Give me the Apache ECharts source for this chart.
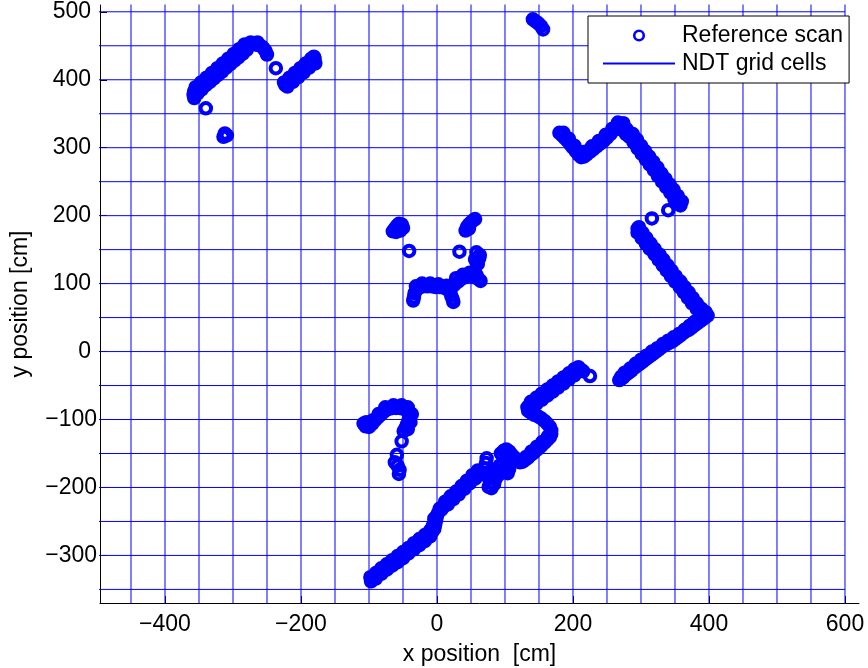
<!DOCTYPE html>
<html>
<head>
<meta charset="utf-8">
<title>NDT grid cells and reference scan</title>
<script src="https://cdn.jsdelivr.net/npm/echarts@6/dist/echarts.min.js"></script>
<style>
  html, body { margin: 0; padding: 0; background: #fff; }
  #chart { width: 868px; height: 668px; }
</style>
</head>
<body>
<div id="chart"></div>
<script>
// Axis limits and labelled ticks [cm]
const xRange = [-495.6, 620.6];
const yRange = [-370, 510];
const xTicks = [-400, -200, 0, 200, 400, 600];
const yTicks = [-300, -200, -100, 0, 100, 200, 300, 400, 500];

// NDT cell boundaries [cm]
const cellEdgesX = [-500, -450, -400, -350, -300, -250, -200, -150, -100, -50, 0, 50, 100, 150, 200, 250, 300, 350, 400, 450, 500, 550, 600];
const cellEdgesY = [-400, -350, -300, -250, -200, -150, -100, -50, 0, 50, 100, 150, 200, 250, 300, 350, 400, 450, 500, 550];

// Reference scan points [x, y] in cm, grouped by wall segment
const scanNorthWest = [
  [-340,358],
  [-357,373],[-358,378],[-357,383],[-353,386],[-349,390],[-345,393],[-341,397],[-337,400],[-333,404],
  [-329,407],[-325,411],[-321,414],[-317,418],[-313,421],[-309,425],[-305,428],[-301,432],[-297,435],
  [-293,439],[-289,442],[-285,446],[-281,449],[-277,451],[-272,452],[-267,452],[-262,451],[-258,449],
  [-255,446],[-252,442],[-250,437],
  [-352,380],[-346,386],[-340,392],[-334,397],[-328,402],[-322,407],[-316,412],[-310,418],[-304,423],
  [-298,428],[-292,433],[-286,438],[-280,444],
  [-355,389],[-347,396],[-339,403],[-331,410],[-323,417],[-315,424],[-307,431],[-299,438],[-291,445],
  [-283,452],[-274,455],[-264,455],
  [-237,417],[-312,321],[-314,316],[-309,318],
  [-223,392],[-220,390],[-219,395],[-215,399],[-211,402],[-207,406],[-203,409],[-199,413],[-195,416],
  [-191,420],[-187,423],[-183,427],[-180,431],[-181,434],[-179,424],[-212,397],[-204,404],[-196,411],[-188,418],
  [-225,396],[-217,403],[-209,410],[-201,417],[-193,424],[-185,431]
];
const scanTop = [[141,489],[145,486],[149,483],[153,479],[156,474]];
const scanCentre = [
  [-65,177],[-62,181],[-59,185],[-56,188],[-52,187],[-50,182],[-54,178],[-60,176],
  [-41,148],
  [42,178],[44,183],[47,187],[50,190],[53,193],[56,195],[47,181],
  [33,147],
  [58,146],[63,142],[56,136],[60,129],[58,132],[62,137],
  [-35,75],[-34,80],[-33,86],[-30,91],[-25,95],[-20,96],[-14,96],[-8,96],[-2,95],[4,95],[10,94],
  [15,92],[19,88],[21,82],[23,77],[24,73],[22,95],[26,99],[31,103],[36,107],[41,110],[46,112],
  [51,111],[56,109],[61,107],[64,104],
  [-31,96],[-22,100],[-10,100],[2,99],[14,97],[28,108],[38,113],[48,116],[58,113]
];
const scanSouthWest = [
  [-108,-106],[-105,-110],[-100,-111],[-95,-106],[-91,-101],[-87,-97],[-83,-93],[-79,-89],[-75,-86],
  [-70,-84],[-65,-83],[-60,-83],[-55,-83],[-50,-84],[-45,-86],[-41,-90],[-40,-95],[-42,-101],
  [-44,-107],[-46,-112],[-49,-117],[-52,-132],[-59,-152],[-62,-163],[-58,-168],[-55,-174],[-56,-180],
  [-104,-104],[-94,-101],[-86,-92],[-76,-82],[-64,-79],[-52,-79],[-43,-82],[-37,-92],[-39,-104],[-43,-114]
];
const scanNorthEast = [
  [180,322],[184,318],[188,314],[192,310],[196,305],[200,300],[204,295],[208,290],[212,286],[216,287],
  [220,290],[225,294],[230,298],[235,302],[240,306],[245,310],[250,315],[255,320],[259,325],[263,330],
  [267,333],[271,333],[275,331],[279,327],
  [186,322],[194,313],[202,303],[210,294],
  [218,294],[228,302],[238,310],[248,319],[258,328],[266,337],[274,336],
  [282,322],[285,318],[288,314],[291,310],[294,306],[297,301],[300,297],[303,293],[306,289],[309,285],
  [312,281],[315,277],[318,273],[321,269],[324,264],[327,260],[330,256],[333,252],[336,248],[339,244],
  [342,240],[345,236],[348,232],[351,227],[354,223],[357,219],[358,215],
  [288,320],[294,312],[300,303],[306,295],[312,287],[318,279],[324,271],[330,262],[336,254],[342,246],
  [348,238],[354,229],[360,221],[278,320],[273,326],
  [283,316],[289,308],[295,299],[301,291],[307,283],[313,275],[319,267],[325,258],[331,250],[337,242],
  [343,234],[349,225],[355,217],
  [340,208],[316,196]
];
const scanEast = [
  [297,183],[295,175],[302,175],[301,167],[308,167],[307,159],[314,159],[313,151],[320,151],[320,143],
  [327,143],[326,135],[333,135],[332,127],[339,127],[338,119],[345,119],[344,111],[351,111],[350,103],
  [358,103],[357,95],[364,95],[363,87],[370,87],[369,79],[376,79],[375,71],[382,71],[382,63],
  [389,63],[388,56],[395,58],[396,55],[398,53],
  [295,181],[297,177],[300,173],[303,169],[306,165],[309,161],[312,157],[315,153],[318,149],[322,145],
  [325,141],[328,137],[331,133],[334,129],[337,125],[340,121],[343,117],[346,113],[349,109],[352,105],
  [356,101],[359,97],[362,93],[365,89],[368,85],[371,81],[374,77],[377,73],[380,69],[384,65],
  [387,61],[390,58],[393,56],
  [394,50],[390,47],[386,44],[382,41],[378,38],[374,35],[370,32],[366,30],[362,27],[358,24],
  [354,21],[350,18],[346,15],[342,13],[338,11],[334,9],[330,6],[326,3],[322,0],[318,-3],
  [314,-6],[310,-9],[306,-12],[302,-15],[298,-18],[294,-21],[290,-24],[286,-28],[282,-31],[278,-34],
  [274,-38],[270,-41],[268,-42],
  [392,54],[385,49],[378,43],[371,37],
  [388,50],[380,44],[372,38],[364,32],[356,26],[348,21],[340,16],[332,11],[324,5],[316,0],
  [308,-6],[300,-12],[292,-18],[284,-25],[276,-31],[271,-37]
];
const scanDiagonal = [
  [-97,-338],[-95,-333],[-91,-330],[-87,-326],[-83,-322],[-79,-320],[-75,-317],[-71,-314],[-67,-311],
  [-63,-308],[-59,-306],[-55,-303],[-51,-300],[-47,-296],[-43,-293],[-39,-290],[-35,-287],[-31,-284],
  [-27,-281],[-23,-278],[-19,-275],[-15,-271],[-11,-268],[-7,-265],[-4,-261],[-3,-256],[-2,-251],
  [-1,-246],[0,-241],[2,-237],[6,-233],[9,-229],[13,-225],[17,-221],[21,-217],[25,-213],[29,-210],
  [33,-206],[37,-202],[41,-198],[45,-194],[49,-190],[53,-186],[57,-183],[61,-180],[65,-178],
  [-90,-334],[-82,-327],[-74,-321],[-66,-315],[-58,-310],[-50,-304],[-42,-297],[-34,-291],[-26,-285],
  [-18,-279],[-10,-272],[16,-225],[24,-217],[32,-210],[40,-202],[48,-194],[56,-187],
  [-98,-332],[-90,-326],[-82,-319],[-74,-313],[-66,-307],[-58,-301],[-50,-295],[-42,-289],[-34,-282],
  [-26,-276],[-18,-270],[-10,-263],[-6,-256],[-4,-246],[4,-231],[12,-221],[20,-213],[28,-206],
  [36,-198],[44,-190],[52,-182],[60,-175],
  [73,-157],[72,-164],[70,-172],[72,-179],[76,-186],[78,-193],[76,-199],[80,-201],[84,-195],[86,-188],
  [90,-182],[95,-178],[100,-176],[104,-179],[106,-173],[102,-168],[97,-165],[92,-168],[86,-175],
  [80,-180],[66,-179],[62,-180],
  [94,-150],[98,-146],[102,-144],[106,-147],[110,-152],[114,-156],[118,-160],[122,-163],[126,-162],
  [130,-159],[134,-156],[138,-152],[142,-149],[146,-145],[150,-142],[154,-138],[158,-134],[162,-130],
  [166,-126],[168,-121],[168,-116],[166,-111],[162,-106],[158,-102],[153,-98],[148,-95],[143,-93],
  [138,-90],[134,-87],[133,-82],[136,-79],[140,-76],[144,-73],[148,-70],[152,-67],[156,-64],[160,-61],
  [164,-58],[168,-55],[172,-52],[176,-49],[180,-46],[184,-43],[188,-40],[192,-37],[196,-34],[200,-31],
  [204,-29],[208,-27],[212,-27],[215,-29],[225,-36],
  [146,-77],[154,-71],[162,-65],[170,-59],[178,-53],[186,-47],[194,-41],[202,-35],[140,-84],
  [138,-74],[146,-68],[154,-62],[162,-56],[170,-50],[178,-44],[186,-38],[194,-32],[202,-26],[208,-23],
  [163,-125],[155,-133],[147,-140],[139,-147],[131,-155],[124,-161]
];

const FONT = '"Liberation Sans", Arial, Helvetica, sans-serif';
const BLUE = '#0000ff';
const CLEAR = 'rgba(0,0,0,0)';

const scanPoints = [].concat(scanNorthWest, scanTop, scanCentre, scanSouthWest,
                             scanNorthEast, scanEast, scanDiagonal);

// One line series per cell boundary, all sharing the legend entry
const xSpan = [cellEdgesX[0], cellEdgesX[cellEdgesX.length - 1]];
const ySpan = [cellEdgesY[0], cellEdgesY[cellEdgesY.length - 1]];
const gridSegments = [];
cellEdgesX.forEach(x => gridSegments.push([[x, ySpan[0]], [x, ySpan[1]]]));
cellEdgesY.forEach(y => gridSegments.push([[xSpan[0], y], [xSpan[1], y]]));

function tickText(v) {
  return v < 0 ? '\u2212' + Math.abs(v) : String(v);
}

const labelBase = { fontSize: 23, fontFamily: FONT, color: '#000' };

const series = [];
gridSegments.forEach(seg => {
  series.push({
    name: 'NDT grid cells',
    type: 'line',
    data: seg,
    symbol: 'none',
    showSymbol: false,
    silent: true,
    clip: true,
    z: 2,
    // transparent item colour keeps the legend sample a plain line
    itemStyle: { color: CLEAR, borderColor: CLEAR, borderWidth: 0 },
    lineStyle: { color: BLUE, width: 1 },
    emphasis: { disabled: true }
  });
});
series.push({
  name: 'Reference scan',
  type: 'scatter',
  data: scanPoints,
  symbol: 'circle',
  symbolSize: 10.5,
  clip: true,
  z: 3,
  silent: true,
  itemStyle: { color: CLEAR, borderColor: BLUE, borderWidth: 4, opacity: 1 },
  emphasis: { disabled: true }
});

const chart = echarts.init(document.getElementById('chart'), null, { renderer: 'canvas' });
chart.setOption({
  animation: false,
  backgroundColor: '#fff',
  grid: { left: 100, right: 9, top: 5, bottom: 65, containLabel: false, outerBoundsMode: 'none' },
  xAxis: {
    type: 'value',
    min: xRange[0], max: xRange[1],
    axisLine: { show: true, onZero: false, lineStyle: { color: '#000', width: 1 } },
    axisTick: { show: true, inside: true, length: 7, customValues: xTicks, lineStyle: { color: '#000' } },
    axisLabel: Object.assign({ show: true, customValues: xTicks, margin: 10, formatter: tickText }, labelBase),
    splitLine: { show: false },
    name: 'x position  [cm]',
    nameLocation: 'middle',
    nameGap: 40,
    nameTextStyle: labelBase
  },
  yAxis: {
    type: 'value',
    min: yRange[0], max: yRange[1],
    axisLine: { show: true, onZero: false, lineStyle: { color: '#000', width: 1 } },
    axisTick: { show: true, inside: true, length: 7, customValues: yTicks, lineStyle: { color: '#000' } },
    axisLabel: Object.assign({
      show: true, customValues: yTicks, margin: 3,
      formatter: v => v < 0 ? '{n|' + tickText(v) + '}' : '{p|' + tickText(v) + '}',
      rich: {
        n: Object.assign({}, labelBase),
        p: Object.assign({ padding: [0, 6, 0, 0] }, labelBase)
      }
    }, labelBase),
    splitLine: { show: false },
    name: 'y position [cm]',
    nameLocation: 'middle',
    nameGap: 68,
    nameTextStyle: labelBase
  },
  legend: {
    data: [
      { name: 'Reference scan', icon: 'circle',
        itemStyle: { color: CLEAR, borderColor: BLUE, borderWidth: 2.6, opacity: 1 } },
      { name: 'NDT grid cells' }
    ],
    orient: 'vertical',
    left: 588, top: 16,
    padding: [8, 6, 8, 14],
    itemWidth: 72, itemHeight: 9.5, itemGap: 5,
    backgroundColor: '#fff',
    borderColor: '#000', borderWidth: 1, borderRadius: 0,
    selectedMode: false,
    textStyle: Object.assign({ padding: [0, 0, 0, 2] }, labelBase)
  },
  series: series
});
</script>
</body>
</html>
